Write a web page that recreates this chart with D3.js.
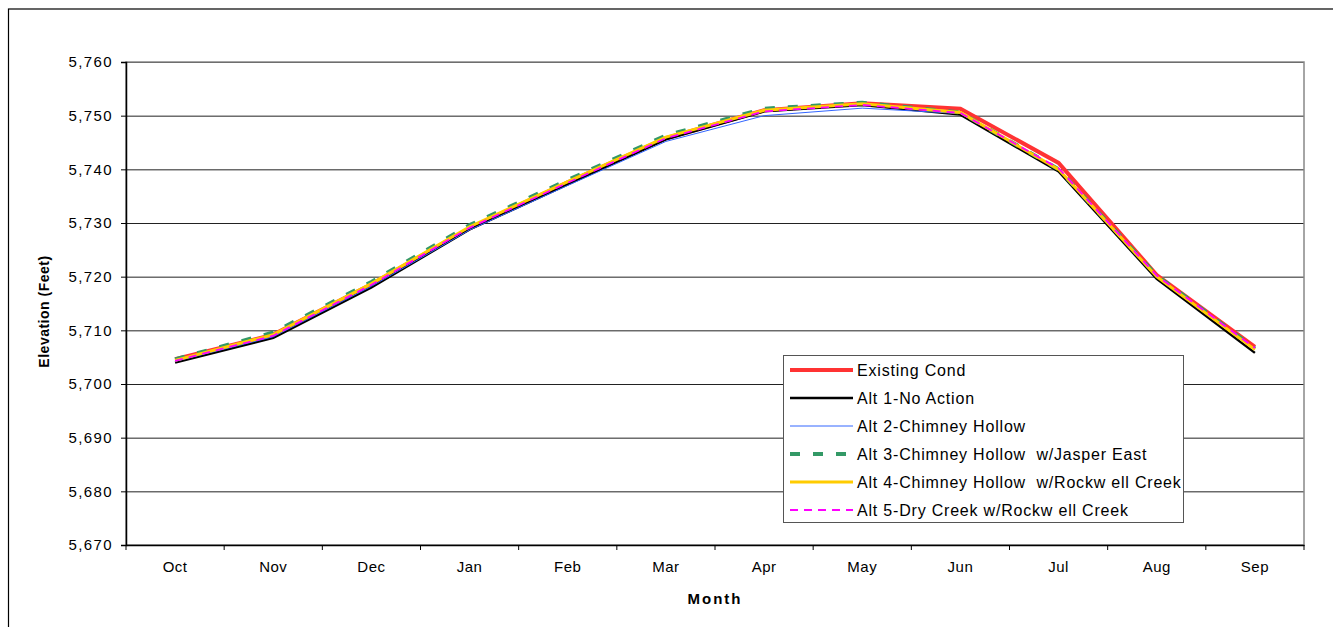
<!DOCTYPE html>
<html>
<head>
<meta charset="utf-8">
<script src="https://cdn.jsdelivr.net/npm/d3@7"></script>
<style>
  body { margin: 0; background: #fff; }
</style>
</head>
<body>
<div id="chart"></div>
<script>
const months = ["Oct", "Nov", "Dec", "Jan", "Feb", "Mar", "Apr", "May", "Jun", "Jul", "Aug", "Sep"];
const yTicks = [5670, 5680, 5690, 5700, 5710, 5720, 5730, 5740, 5750, 5760];

const existingCond = [5704.6, 5709.2, 5718.6, 5729.0, 5737.6, 5745.8, 5751.0, 5752.3, 5751.3, 5741.2, 5720.3, 5706.9];
const alt1 = [5704.0, 5708.6, 5718.0, 5728.8, 5737.2, 5745.6, 5750.8, 5752.0, 5750.2, 5739.6, 5719.6, 5705.8];
const alt2 = [5704.2, 5708.8, 5718.2, 5728.7, 5737.0, 5745.2, 5750.0, 5751.4, 5750.4, 5740.0, 5720.0, 5706.4];
const alt3 = [5704.6, 5709.6, 5719.0, 5729.6, 5738.0, 5746.3, 5751.3, 5752.4, 5750.6, 5740.0, 5720.2, 5706.6];
const alt4 = [5704.4, 5709.2, 5718.7, 5729.3, 5737.7, 5746.0, 5751.0, 5752.2, 5750.6, 5740.0, 5720.0, 5706.4];
const alt5 = [5704.3, 5709.0, 5718.5, 5729.1, 5737.5, 5745.8, 5750.8, 5752.0, 5750.5, 5740.2, 5720.2, 5706.7];

const seriesNames = [
  "Existing Cond",
  "Alt 1-No Action",
  "Alt 2-Chimney Hollow",
  "Alt 3-Chimney Hollow  w/Jasper East",
  "Alt 4-Chimney Hollow  w/Rockw ell Creek",
  "Alt 5-Dry Creek w/Rockw ell Creek"
];
const seriesValues = [existingCond, alt1, alt2, alt3, alt4, alt5];

window.addEventListener("load", () => {
  const width = 1333;
  const height = 627;
  const margin = { left: 126, top: 62, right: 1304, bottom: 545 };
  const fontFamily = "'Liberation Sans', Arial, sans-serif";

  const styles = [
    { color: "#ff3333", width: 4, dash: null },
    { color: "#000000", width: 2.5, dash: null },
    { color: "#3366ff", width: 1, dash: null },
    { color: "#339966", width: 4, dash: "10 13" },
    { color: "#ffcc00", width: 3, dash: null },
    { color: "#ff00ff", width: 1.8, dash: "8 6" }
  ];

  const svg = d3.select("#chart")
    .append("svg")
    .attr("width", width)
    .attr("height", height)
    .style("font-family", fontFamily);

  // outer chart frame
  svg.append("rect")
    .attr("x", 8.5).attr("y", 9)
    .attr("width", 1400).attr("height", 700)
    .attr("fill", "none")
    .attr("stroke", "#000")
    .attr("stroke-width", 1.2);

  const x = d3.scaleBand()
    .domain(months)
    .range([margin.left, margin.right]);

  const y = d3.scaleLinear()
    .domain([5670, 5760])
    .range([margin.bottom, margin.top]);

  // gridlines
  svg.append("g")
    .selectAll("line")
    .data(yTicks.slice(1))
    .join("line")
    .attr("x1", margin.left)
    .attr("x2", margin.right)
    .attr("y1", d => y(d) + 0.5)
    .attr("y2", d => y(d) + 0.5)
    .attr("stroke", "#222")
    .attr("stroke-width", 1);

  // plot border
  svg.append("rect")
    .attr("x", margin.left)
    .attr("y", margin.top)
    .attr("width", margin.right - margin.left)
    .attr("height", margin.bottom - margin.top)
    .attr("fill", "none")
    .attr("stroke", "#888")
    .attr("stroke-width", 1.5);

  // y axis
  const yAxis = svg.append("g")
    .attr("transform", `translate(${margin.left},0)`)
    .call(d3.axisLeft(y).tickValues(yTicks).tickSize(5).tickPadding(8).tickFormat(d3.format(",")));
  yAxis.select(".domain").attr("stroke", "#000").attr("stroke-width", 1.5);
  yAxis.selectAll(".tick line").attr("stroke", "#000");
  yAxis.selectAll("text")
    .attr("font-size", "15px")
    .attr("letter-spacing", "1.4px")
    .attr("fill", "#000")
    .attr("font-family", fontFamily);

  // x axis
  const xAxis = svg.append("g")
    .attr("transform", `translate(0,${margin.bottom})`)
    .call(d3.axisBottom(x).tickSize(0).tickPadding(16));
  xAxis.select(".domain").attr("stroke", "#000").attr("stroke-width", 1.5);
  xAxis.selectAll("text")
    .attr("font-size", "15px")
    .attr("letter-spacing", "0.5px")
    .attr("fill", "#000")
    .attr("font-family", fontFamily);

  // x tick marks between categories
  const boundaries = months.map(m => x(m)).concat([margin.right]);
  svg.append("g")
    .selectAll("line")
    .data(boundaries)
    .join("line")
    .attr("x1", d => d).attr("x2", d => d)
    .attr("y1", margin.bottom).attr("y2", margin.bottom + 5)
    .attr("stroke", "#000");

  // axis titles
  svg.append("text")
    .attr("x", (margin.left + margin.right) / 2)
    .attr("y", 604)
    .attr("text-anchor", "middle")
    .attr("font-size", "15px")
    .attr("font-weight", "bold")
    .attr("letter-spacing", "2px")
    .text("Month");

  svg.append("text")
    .attr("transform", `translate(49,${(margin.top + margin.bottom) / 2 + 8}) rotate(-90)`)
    .attr("text-anchor", "middle")
    .attr("font-size", "14px")
    .attr("font-weight", "bold")
    .attr("letter-spacing", "0.5px")
    .text("Elevation (Feet)");

  // lines
  const line = d3.line()
    .x((d, i) => x(months[i]) + x.bandwidth() / 2)
    .y(d => y(d));

  seriesValues.forEach((values, i) => {
    svg.append("path")
      .datum(values)
      .attr("d", line)
      .attr("fill", "none")
      .attr("stroke", styles[i].color)
      .attr("stroke-width", styles[i].width)
      .attr("stroke-dasharray", styles[i].dash)
      .attr("stroke-linejoin", "miter");
  });

  // legend
  const lg = svg.append("g");
  lg.append("rect")
    .attr("x", 783.5).attr("y", 355.5)
    .attr("width", 400).attr("height", 167)
    .attr("fill", "#fff")
    .attr("stroke", "#555")
    .attr("stroke-width", 1);

  seriesNames.forEach((name, i) => {
    const ly = 370 + i * 28;
    lg.append("line")
      .attr("x1", 790).attr("x2", 853)
      .attr("y1", ly).attr("y2", ly)
      .attr("stroke", styles[i].color)
      .attr("stroke-width", styles[i].width)
      .attr("stroke-dasharray", styles[i].dash);
    lg.append("text")
      .attr("x", 857)
      .attr("y", ly)
      .attr("dominant-baseline", "central")
      .attr("font-size", "16px")
      .attr("letter-spacing", "0.8px")
      .attr("fill", "#000")
      .style("white-space", "pre")
      .text(name);
  });
});
</script>
</body>
</html>
